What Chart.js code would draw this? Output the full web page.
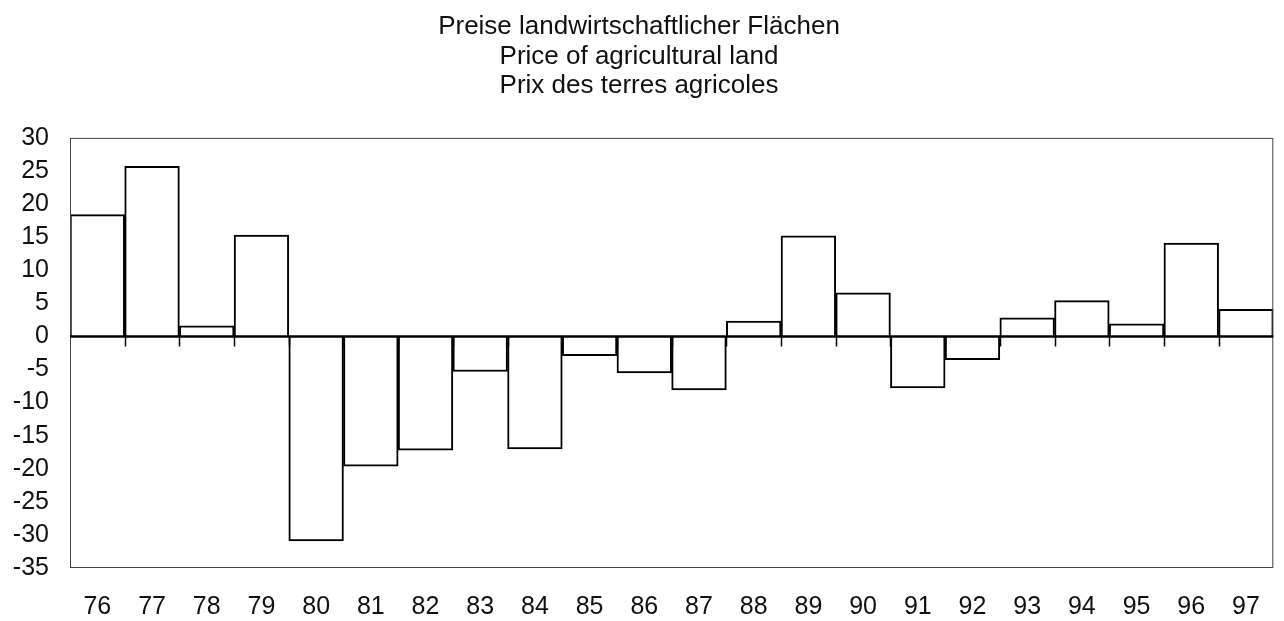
<!DOCTYPE html>
<html>
<head>
<meta charset="utf-8">
<script src="https://cdn.jsdelivr.net/npm/chart.js@4"></script>
<style>
  html, body { margin: 0; padding: 0; background: #fff; overflow: hidden; }
  canvas { display: block; }
</style>
</head>
<body>
<canvas id="landChart" width="1284" height="621"></canvas>
<script>
const years = ["76","77","78","79","80","81","82","83","84","85","86","87","88","89","90","91","92","93","94","95","96","97"];
const priceChange = [18.4, 25.7, 1.6, 15.3, -30.9, -19.6, -17.2, -5.3, -17.0, -2.9, -5.5, -8.1, 2.3, 15.2, 6.6, -7.8, -3.5, 2.8, 5.4, 1.9, 14.1, 4.1];
const titleLines = ["Preise landwirtschaftlicher Flächen", "Price of agricultural land", "Prix des terres agricoles"];
const yMin = -35, yMax = 30, yStep = 5;

const fontFam = "'Liberation Sans', Arial, sans-serif";

// frame, zero line and the little ticks under it
const framePlugin = {
  id: "frame",
  afterDatasetsDraw(chart) {
    const { ctx, chartArea: a, scales: { x, y } } = chart;
    ctx.save();
    ctx.strokeStyle = "#444";
    ctx.lineWidth = 1;
    ctx.strokeRect(a.left + 0.5, a.top + 0.5, a.right - a.left - 1, a.bottom - a.top - 1);

    const zy = y.getPixelForValue(0);
    ctx.strokeStyle = "#000";
    ctx.lineWidth = 2.5;
    ctx.beginPath();
    ctx.moveTo(a.left, zy);
    ctx.lineTo(a.right, zy);
    ctx.stroke();

    const half = (x.getPixelForValue(1) - x.getPixelForValue(0)) / 2;
    ctx.lineWidth = 1.5;
    ctx.beginPath();
    for (let i = 1; i < years.length; i++) {
      const bx = Math.round(x.getPixelForValue(i) - half) + 0.5;
      ctx.moveTo(bx, zy);
      ctx.lineTo(bx, zy + 10);
    }
    ctx.stroke();
    ctx.restore();
  }
};

const ctx = document.getElementById("landChart").getContext("2d");
new Chart(ctx, {
  type: "bar",
  data: {
    labels: years,
    datasets: [{
      data: priceChange,
      backgroundColor: "#ffffff",
      borderColor: "#000000",
      borderWidth: 2,
      barPercentage: 1,
      categoryPercentage: 1
    }]
  },
  options: {
    responsive: false,
    animation: false,
    layout: { padding: { left: 0, right: 6, top: 0, bottom: 0 } },
    plugins: {
      legend: { display: false },
      tooltip: { enabled: false },
      title: {
        display: true,
        text: titleLines,
        color: "#111",
        font: { family: fontFam, size: 26, weight: "normal", lineHeight: 1.14 },
        padding: { top: 12, bottom: 37 }
      }
    },
    scales: {
      x: {
        grid: { display: false, drawTicks: false },
        border: { display: false },
        afterFit(scale) { scale.height = 53; },
        ticks: {
          color: "#111",
          padding: 24,
          maxRotation: 0,
          autoSkip: false,
          font: { family: fontFam, size: 25 }
        }
      },
      y: {
        min: yMin,
        max: yMax,
        grid: { display: false, drawTicks: false },
        border: { display: false },
        afterFit(scale) { scale.width = 70; },
        ticks: {
          stepSize: yStep,
          autoSkip: false,
          color: "#111",
          padding: 21,
          font: { family: fontFam, size: 25 }
        }
      }
    }
  },
  plugins: [framePlugin]
});
</script>
</body>
</html>
